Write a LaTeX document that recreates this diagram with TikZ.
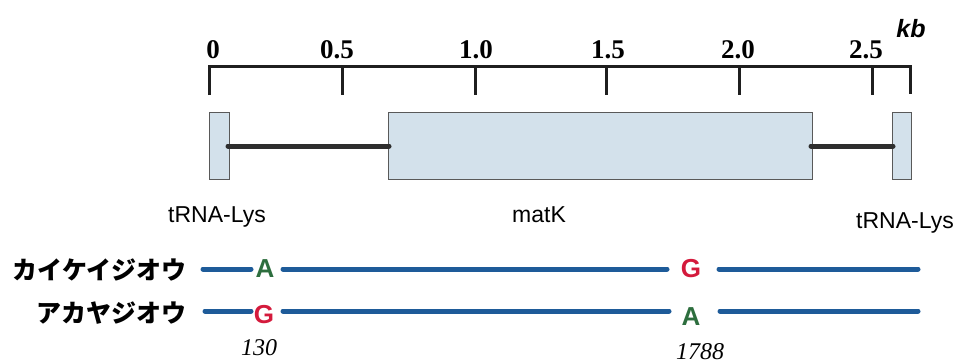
\documentclass[tikz,border=0pt]{standalone}
\usepackage{fontspec}
\setmainfont{Liberation Serif}
\setsansfont{Liberation Sans}
\newfontfamily\cjk{Noto Sans CJK JP}
\definecolor{boxblue}{HTML}{D3E1EB}
\definecolor{seqblue}{HTML}{1E5B99}
\definecolor{ntgreen}{HTML}{2D6E3E}
\definecolor{ntred}{HTML}{D41A3C}
\begin{document}
\begin{tikzpicture}[x=1pt,y=-1pt,
  axisline/.style={line width=3pt, draw=black!88, line join=miter},
  ticklbl/.style={anchor=base, inner sep=0, font=\fontsize{27}{27}\selectfont\bfseries},
  genebox/.style={draw=black!65, line width=0.8pt, fill=boxblue, inner sep=0, minimum height=67pt},
  spacer/.style={line width=5pt, draw=black!82, line cap=round},
  genelbl/.style={anchor=base, inner sep=0, font=\sffamily\fontsize{23}{23}\selectfont},
  namelbl/.style={anchor=east, inner sep=0, font=\cjk\bfseries\fontsize{25}{25}\selectfont},
  seqline/.style={line width=5pt, draw=seqblue, line cap=round},
  ntA/.style={anchor=base, inner sep=0, text=ntgreen, font=\sffamily\bfseries\fontsize{26}{26}\selectfont},
  ntG/.style={anchor=base, inner sep=0, text=ntred, font=\sffamily\bfseries\fontsize{26}{26}\selectfont},
  poslbl/.style={anchor=base, inner sep=0, font=\itshape\fontsize{24}{24}\selectfont}]
\useasboundingbox (0,0) rectangle (956,364);

% scale axis
\coordinate (a0b) at (209,95);
\coordinate (a0) at (209,66);
\coordinate (aend) at (910,66);
\coordinate (aendb) at (910,94);
\draw[axisline] (a0b) -- (a0) -- (aend) -- (aendb);
\foreach \x/\n in {342/t1,475/t2,606/t3,739/t4,872/t5}{
  \coordinate (\n a) at (\x,66);
  \coordinate (\n b) at (\x,95);
  \draw[axisline] (\n a) -- (\n b);
}
\node[ticklbl] (l0) at (213,58) {0};
\node[ticklbl] (l05) at (337,58) {0.5};
\node[ticklbl] (l10) at (476,58) {1.0};
\node[ticklbl] (l15) at (608,58) {1.5};
\node[ticklbl] (l20) at (738,58) {2.0};
\node[ticklbl] (l25) at (866,58) {2.5};
\node[anchor=base, inner sep=0, font=\sffamily\bfseries\itshape\fontsize{25}{25}\selectfont] (kb) at (911,37) {kb};

% gene boxes
\node[genebox, minimum width=20pt] (trna1) at (219,145.5) {};
\node[genebox, minimum width=424pt] (matk) at (600,145.5) {};
\node[genebox, minimum width=19pt] (trna2) at (901.5,145.5) {};
\coordinate (s1a) at (228,146);
\coordinate (s1b) at (389,146);
\coordinate (s2a) at (811,146);
\coordinate (s2b) at (893,146);
\draw[spacer] (s1a) -- (s1b);
\draw[spacer] (s2a) -- (s2b);

\node[genelbl] (ltrna1) at (217,222) {tRNA-Lys};
\node[genelbl] (lmatk) at (539,222) {matK};
\node[genelbl] (ltrna2) at (905,228) {tRNA-Lys};

% species
\node[namelbl] (sp1) at (187,270) {カイケイジオウ};
\node[namelbl] (sp2) at (187,313) {アカヤジオウ};

% sequence row 1
\node[ntA] (r1a) at (265,277) {A};
\node[ntG] (r1g) at (691,277) {G};
\coordinate (r1p) at (203,269);
\coordinate (r1q) at (251,269);
\coordinate (r1r) at (283,269);
\coordinate (r1s) at (667,269);
\coordinate (r1t) at (719,269);
\coordinate (r1u) at (918,269);
\draw[seqline] (r1p) -- (r1q);
\draw[seqline] (r1r) -- (r1s);
\draw[seqline] (r1t) -- (r1u);

% sequence row 2
\node[ntG] (r2g) at (264,323) {G};
\node[ntA] (r2a) at (691,325) {A};
\coordinate (r2p) at (205,311);
\coordinate (r2q) at (251,311);
\coordinate (r2r) at (283,311);
\coordinate (r2s) at (669,311);
\coordinate (r2t) at (720,311);
\coordinate (r2u) at (918,311);
\draw[seqline] (r2p) -- (r2q);
\draw[seqline] (r2r) -- (r2s);
\draw[seqline] (r2t) -- (r2u);

% positions
\node[poslbl] (p130) at (259,355) {130};
\node[poslbl] (p1788) at (700,359) {1788};
\end{tikzpicture}
\end{document}
